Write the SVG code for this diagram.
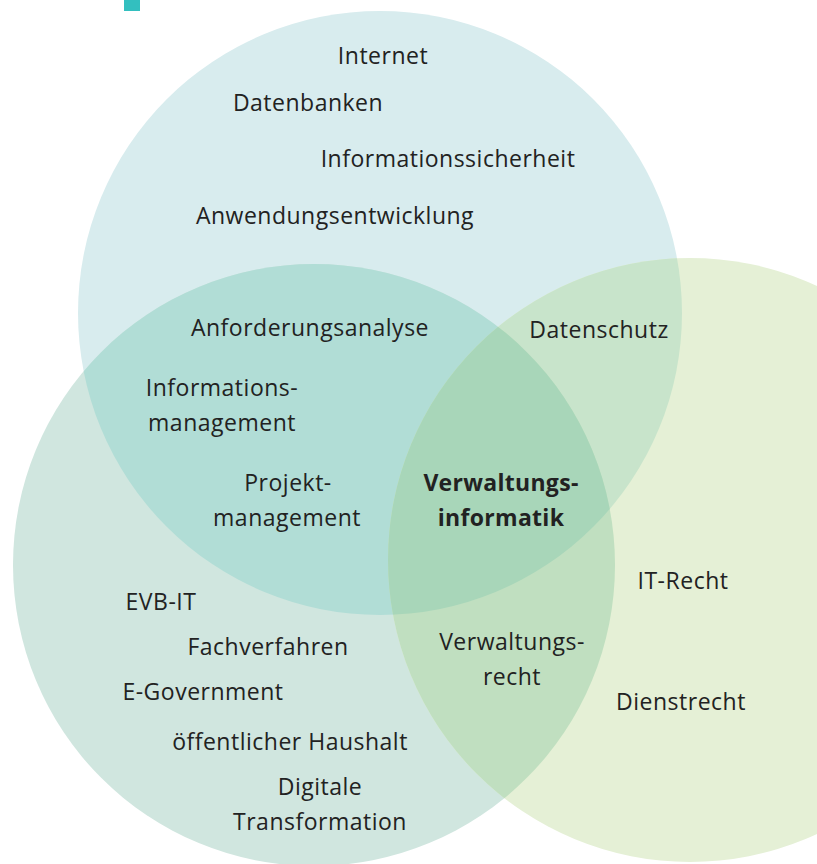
<svg xmlns="http://www.w3.org/2000/svg" width="817" height="864" viewBox="0 0 817 864">
<style>
text{font-family:"Open Sans","Noto Sans","Liberation Sans",sans-serif;font-size:23px;letter-spacing:0.5px;fill:#222;text-anchor:middle}
.b{font-weight:bold;letter-spacing:0.3px}
</style>
<defs>
<clipPath id="k1"><circle cx="380" cy="313" r="302"/></clipPath>
<clipPath id="k2"><circle cx="314" cy="565" r="301"/></clipPath>
</defs>
<rect width="817" height="864" fill="#fff"/>
<rect x="124" y="0" width="16" height="11" fill="#33bfbf"/>
<g id="circles">
<circle id="it" cx="380" cy="313" r="302" fill="#d8ecee"/>
<circle id="verwaltung" cx="314" cy="565" r="301" fill="#d0e6df"/>
<circle id="recht" cx="690" cy="560" r="302" fill="#e5f0d6"/>
<g clip-path="url(#k1)"><circle cx="314" cy="565" r="301" fill="#b1ddd6"/><circle cx="690" cy="560" r="302" fill="#c8e4cb"/></g>
<g clip-path="url(#k2)"><circle cx="690" cy="560" r="302" fill="#c0dfc0"/></g>
<g clip-path="url(#k1)"><g clip-path="url(#k2)"><circle cx="690" cy="560" r="302" fill="#a8d6b9"/></g></g>
</g>
<g id="labels" transform="translate(0,1)">
<text x="383" y="63">Internet</text>
<text x="308" y="110">Datenbanken</text>
<text x="448" y="166">Informationssicherheit</text>
<text x="335" y="223">Anwendungsentwicklung</text>
<text x="310" y="335">Anforderungsanalyse</text>
<text x="599" y="337">Datenschutz</text>
<text x="222" y="395">Informations-</text>
<text x="222" y="430">management</text>
<text x="288" y="490">Projekt-</text>
<text x="287" y="525">management</text>
<text class="b" x="501" y="490">Verwaltungs-</text>
<text class="b" x="501" y="525">informatik</text>
<text x="683" y="588">IT-Recht</text>
<text x="161" y="609">EVB-IT</text>
<text x="268" y="654">Fachverfahren</text>
<text x="512" y="649">Verwaltungs-</text>
<text x="512" y="684">recht</text>
<text x="203" y="699">E-Government</text>
<text x="681" y="709">Dienstrecht</text>
<text x="290" y="749">öffentlicher Haushalt</text>
<text x="320" y="794">Digitale</text>
<text x="320" y="829">Transformation</text>
</g>
</svg>
